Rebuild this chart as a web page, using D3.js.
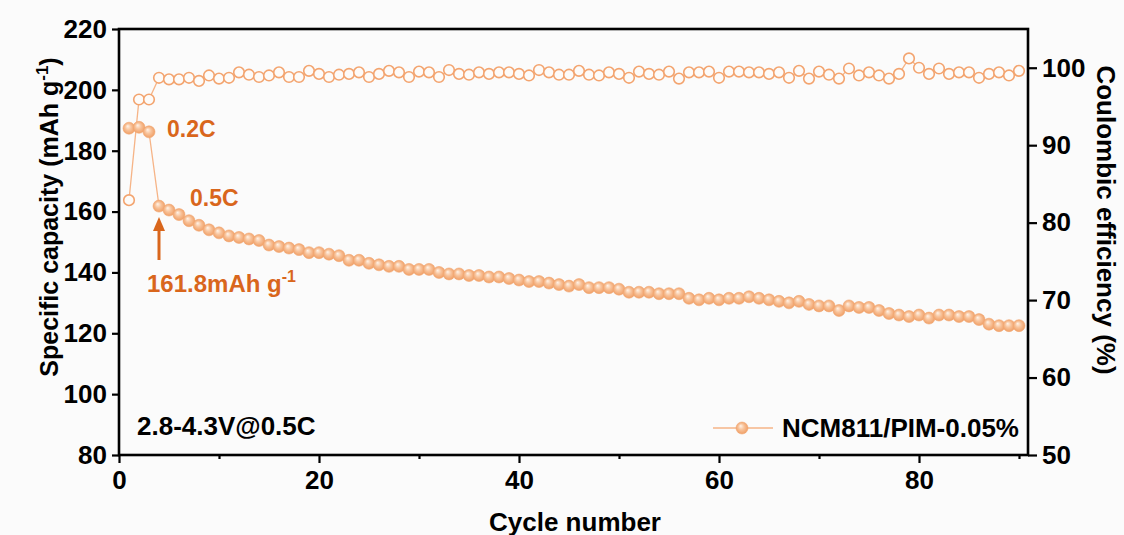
<!DOCTYPE html>
<html>
<head>
<meta charset="utf-8">
<script src="https://cdn.jsdelivr.net/npm/d3@7"></script>
<style>
  html, body { margin: 0; padding: 0; background: #fbfbfb; }
  svg { display: block; font-family: "Liberation Sans", Arial, sans-serif; font-weight: bold; }
</style>
</head>
<body>
<svg id="chart" width="1124" height="535"></svg>
<script>
//
// Data
//
var capacity = [187.4, 187.7, 186.2, 161.8, 160.5, 159, 157, 155.5, 154, 153,
  152, 151.5, 151, 150.5, 149, 148.5, 148, 147.5, 146.5, 146.5,
  146, 145.5, 144, 144, 143, 142.5, 142, 142, 141, 141,
  141, 140, 139.5, 139.5, 139, 139, 138.5, 138.5, 138, 137.5,
  137, 137, 136.5, 136, 135.5, 136, 135, 135, 135, 134.5,
  133.5, 133.5, 133.5, 133, 133, 133, 131.5, 131, 131.5, 131,
  131.5, 131.5, 132, 131.5, 131, 130.5, 130, 130.5, 129.5, 129,
  129, 127.5, 129, 128.5, 128.5, 127.5, 126.5, 126, 125.5, 126,
  125, 126, 126, 125.5, 125.5, 124.5, 123, 122.5, 122.5, 122.5]
var efficiency = [82.9, 95.9, 95.9, 98.7, 98.5, 98.5, 98.7, 98.3, 99.0, 98.6,
  98.7, 99.4, 99.1, 98.8, 99.0, 99.4, 98.8, 98.8, 99.6, 99.2,
  98.8, 99.1, 99.2, 99.4, 98.8, 99.2, 99.6, 99.4, 98.8, 99.5,
  99.4, 98.8, 99.7, 99.2, 99.1, 99.4, 99.2, 99.4, 99.4, 99.2,
  99.0, 99.7, 99.4, 99.1, 99.1, 99.6, 99.1, 99.0, 99.4, 99.2,
  98.7, 99.5, 99.2, 99.1, 99.5, 98.6, 99.4, 99.4, 99.5, 98.7,
  99.5, 99.5, 99.4, 99.4, 99.2, 99.4, 98.7, 99.6, 98.6, 99.5,
  99.1, 98.6, 99.9, 99.0, 99.4, 99.0, 98.6, 99.2, 101.2, 100.0,
  99.2, 99.9, 99.2, 99.4, 99.4, 98.7, 99.2, 99.4, 99.0, 99.6]
var xTicks = [0, 20, 40, 60, 80]
var xMinorTicks = [10, 30, 50, 70, 90]
var capTicks = [80, 100, 120, 140, 160, 180, 200, 220]
var ceTicks = [50, 60, 70, 80, 90, 100]
var seriesName = 'NCM811/PIM-0.05%'

//
// Layout
//
var plotLeft = 119, plotRight = 1028, plotTop = 29, plotBottom = 455
var colorLine = '#f6b487'
var colorMark = '#f3a46f'
var colorNote = '#d9661c'
var fontSize = 26

var svg = d3.select('#chart')

var x = d3.scaleLinear().domain([0, 90.9]).range([plotLeft, plotRight])
var yCap = d3.scaleLinear().domain([80, 220]).range([plotBottom, plotTop])
var yCE = d3.scaleLinear().domain([50, 105]).range([plotBottom, plotTop])

// gradient for the shaded (sphere-like) markers
var defs = svg.append('defs')
var grad = defs.append('radialGradient').attr('id', 'ball')
  .attr('cx', '50%').attr('cy', '50%').attr('r', '55%')
  .attr('fx', '38%').attr('fy', '32%')
grad.append('stop').attr('offset', '0%').attr('stop-color', '#fff3e8')
grad.append('stop').attr('offset', '45%').attr('stop-color', '#f8c39b')
grad.append('stop').attr('offset', '100%').attr('stop-color', '#ef9a5e')

//
// Axes
//
var gx = svg.append('g').attr('transform', 'translate(0,' + plotBottom + ')')
  .call(d3.axisBottom(x).tickValues(xTicks).tickFormat(d3.format('d')).tickSize(8).tickPadding(6))
var gxMinor = svg.append('g').attr('transform', 'translate(0,' + plotBottom + ')')
  .call(d3.axisBottom(x).tickValues(xMinorTicks).tickFormat('').tickSize(4))
var gl = svg.append('g').attr('transform', 'translate(' + plotLeft + ',0)')
  .call(d3.axisLeft(yCap).tickValues(capTicks).tickSize(7).tickPadding(5))
var gr = svg.append('g').attr('transform', 'translate(' + plotRight + ',0)')
  .call(d3.axisRight(yCE).tickValues(ceTicks).tickSize(9).tickPadding(5))

;[gx, gxMinor, gl, gr].forEach(function(g) {
  g.select('.domain').remove()
  g.selectAll('line').attr('stroke', '#000').attr('stroke-width', 2.2)
  g.selectAll('text').attr('fill', '#000').style('font-size', fontSize + 'px')
    .attr('font-family', '"Liberation Sans", Arial, sans-serif').attr('font-weight', 'bold')
})
gx.selectAll('text').attr('dy', '0.76em')

// frame
svg.append('rect')
  .attr('x', plotLeft).attr('y', plotTop)
  .attr('width', plotRight - plotLeft).attr('height', plotBottom - plotTop)
  .attr('fill', 'none').attr('stroke', '#000').attr('stroke-width', 2.6)

//
// Series
//
var lineCE = d3.line()
  .x(function(d, i) { return x(i + 1) })
  .y(function(d) { return yCE(d) })
var lineCap = d3.line()
  .x(function(d, i) { return x(i + 1) })
  .y(function(d) { return yCap(d) })

svg.append('path').datum(efficiency).attr('d', lineCE)
  .attr('fill', 'none').attr('stroke', colorLine).attr('stroke-width', 1.3)
svg.append('g').selectAll('circle').data(efficiency).join('circle')
  .attr('cx', function(d, i) { return x(i + 1) })
  .attr('cy', function(d) { return yCE(d) })
  .attr('r', 5.3)
  .attr('fill', '#fdfbf9').attr('stroke', colorMark).attr('stroke-width', 1.6)

svg.append('path').datum(capacity).attr('d', lineCap)
  .attr('fill', 'none').attr('stroke', colorLine).attr('stroke-width', 1.3)
svg.append('g').selectAll('circle').data(capacity).join('circle')
  .attr('cx', function(d, i) { return x(i + 1) })
  .attr('cy', function(d) { return yCap(d) })
  .attr('r', 6)
  .attr('fill', 'url(#ball)').attr('stroke', '#f2a873').attr('stroke-width', 0.6)

//
// Axis titles
//
var capTitle = svg.append('text')
  .attr('transform', 'translate(58,217) rotate(-90)')
  .attr('text-anchor', 'middle').style('font-size', '25px')
capTitle.append('tspan').text('Specific capacity (mAh g')
capTitle.append('tspan').attr('dy', -10).style('font-size', '17px').text('-1')
capTitle.append('tspan').attr('dy', 10).text(')')

svg.append('text')
  .attr('transform', 'translate(1097,220) rotate(90)')
  .attr('text-anchor', 'middle').style('font-size', fontSize + 'px')
  .text('Coulombic efficiency (%)')

svg.append('text')
  .attr('x', 575).attr('y', 531)
  .attr('text-anchor', 'middle').style('font-size', fontSize + 'px')
  .text('Cycle number')

//
// Annotations
//
svg.append('text').attr('x', 167).attr('y', 137)
  .attr('fill', colorNote).style('font-size', '23px').text('0.2C')
svg.append('text').attr('x', 190).attr('y', 206)
  .attr('fill', colorNote).style('font-size', '23px').text('0.5C')

var arrowX = x(4)
svg.append('line')
  .attr('x1', arrowX).attr('x2', arrowX).attr('y1', 260).attr('y2', 228)
  .attr('stroke', colorNote).attr('stroke-width', 3)
svg.append('path')
  .attr('d', 'M' + (arrowX - 6) + ',231 L' + arrowX + ',217 L' + (arrowX + 6) + ',231 Z')
  .attr('fill', colorNote)

var note = svg.append('text').attr('x', 147).attr('y', 292)
  .attr('fill', colorNote).style('font-size', '24px')
note.append('tspan').text('161.8mAh g')
note.append('tspan').attr('dy', -10).style('font-size', '16px').text('-1')

svg.append('text').attr('x', 137).attr('y', 435)
  .style('font-size', fontSize + 'px').text('2.8-4.3V@0.5C')

// legend
svg.append('line').attr('x1', 713).attr('x2', 773).attr('y1', 428).attr('y2', 428)
  .attr('stroke', colorLine).attr('stroke-width', 1.6)
svg.append('circle').attr('cx', 742).attr('cy', 428).attr('r', 6)
  .attr('fill', 'url(#ball)').attr('stroke', '#f2a873').attr('stroke-width', 0.6)
svg.append('text').attr('x', 782).attr('y', 437)
  .style('font-size', fontSize + 'px').text(seriesName)
</script>
</body>
</html>
